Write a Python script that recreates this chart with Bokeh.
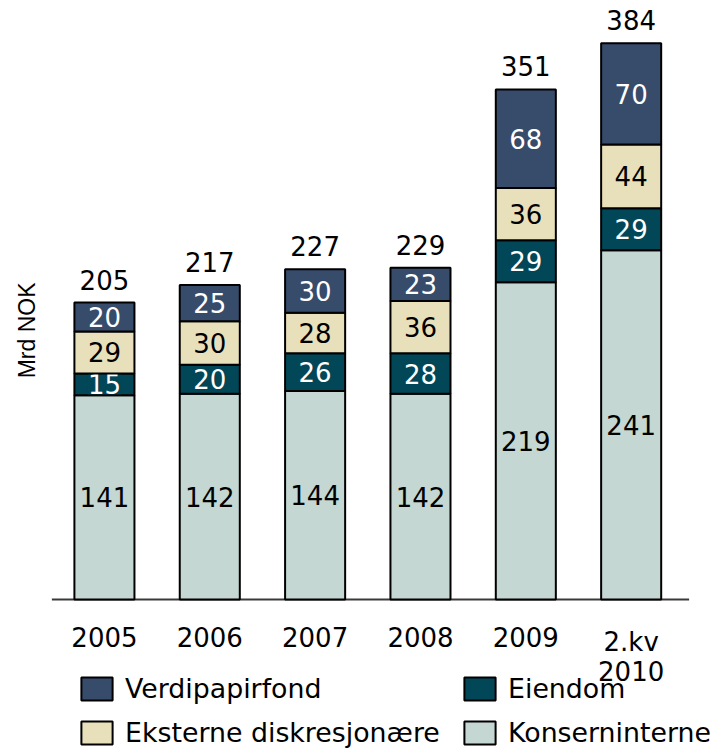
import numpy as np
from bokeh.plotting import figure
from bokeh.models import Range1d, Legend, LegendItem, ColumnDataSource, Title
from bokeh.embed import file_html
from bokeh.resources import INLINE
from bokeh.core.properties import value

# ---- data ----
categories = ["2005", "2006", "2007", "2008", "2009", "2.kv\n2010"]
konserninterne = [141, 142, 144, 142, 219, 241]
eiendom = [15, 20, 26, 28, 29, 29]
eksterne = [29, 30, 28, 36, 36, 44]
verdipapirfond = [20, 25, 30, 23, 68, 70]
totals = [205, 217, 227, 229, 351, 384]

series_names = ["Konserninterne", "Eiendom", "Eksterne diskresjonære", "Verdipapirfond"]
series_values = [konserninterne, eiendom, eksterne, verdipapirfond]
series_colors = ["#C4D7D2", "#014758", "#E8DFBB", "#374B6B"]
label_colors = ["#000000", "#FFFFFF", "#000000", "#FFFFFF"]

FONT = "DejaVu Sans"
FS = "26px"

n = len(categories)
xpos = np.arange(n, dtype=float)

p = figure(width=720, height=748, x_range=Range1d(-0.5024, 5.848),
           y_range=Range1d(-102.8, 407.9), output_backend="svg", toolbar_location=None,
           min_border_left=50, min_border_right=0, min_border_top=8, min_border_bottom=0)
p.outline_line_color = None
p.xgrid.visible = False
p.ygrid.visible = False
p.yaxis.visible = False
p.xaxis.visible = False

# baseline under the categories
p.segment(x0=[-0.5], x1=[n - 0.45], y0=[0], y1=[0], line_color="#3a3a3a", line_width=2)

p.add_layout(Title(text="Mrd NOK", align="right", offset=274, standoff=23,
                   text_font="Liberation Sans", text_font_size="23px",
                   text_font_style="normal", text_color="#000000"), "left")

renderers = []
bottoms = np.zeros(n)
for name, vals, col, lcol in zip(series_names, series_values, series_colors, label_colors):
    vals = np.array(vals, dtype=float)
    src = ColumnDataSource(dict(x=xpos, bottom=bottoms.copy(), top=bottoms + vals,
                                mid=bottoms + vals / 2, label=[str(int(v)) for v in vals]))
    r = p.vbar(x="x", bottom="bottom", top="top", width=0.57, source=src,
               fill_color=col, line_color="#000000", line_width=2)
    renderers.append(r)
    kw = {}
    if name == "Eiendom":
        kw = dict(background_fill_color=col, padding=0)
    p.text(x="x", y="mid", text="label", source=src, text_align="center",
           text_baseline="middle", text_color=lcol, text_font=value(FONT),
           text_font_size=FS, **kw)
    bottoms = bottoms + vals

# totals above the stacks
tot_src = ColumnDataSource(dict(x=xpos, top=bottoms, label=[str(t) for t in totals]))
p.text(x="x", y="top", text="label", source=tot_src, text_align="center",
       text_baseline="bottom", y_offset=-13, text_color="#000000",
       text_font=value(FONT), text_font_size=FS)

# category labels under the baseline
cat_src = ColumnDataSource(dict(x=xpos, zero=np.zeros(n), cat=categories))
p.text(x="x", y="zero", text="cat", source=cat_src, text_align="center",
       text_baseline="top", y_offset=27, text_color="#000000", text_line_height=1.0,
       text_font=value(FONT), text_font_size=FS)

rmap = dict(zip(series_names, renderers))
order = ["Verdipapirfond", "Eiendom", "Eksterne diskresjonære", "Konserninterne"]
legend = Legend(items=[LegendItem(label=nm, renderers=[rmap[nm]]) for nm in order],
                orientation="horizontal", ncols=2, location=(26, 0),
                glyph_width=39, glyph_height=29, label_standoff=9,
                label_text_font=FONT, label_text_font_size="26.8px", label_text_color="#000000",
                label_width=322, spacing=13, padding=0, margin=0, border_line_color=None,
                background_fill_alpha=0)
p.add_layout(legend, "center")

open("out.html", "w").write(file_html(p, INLINE))
